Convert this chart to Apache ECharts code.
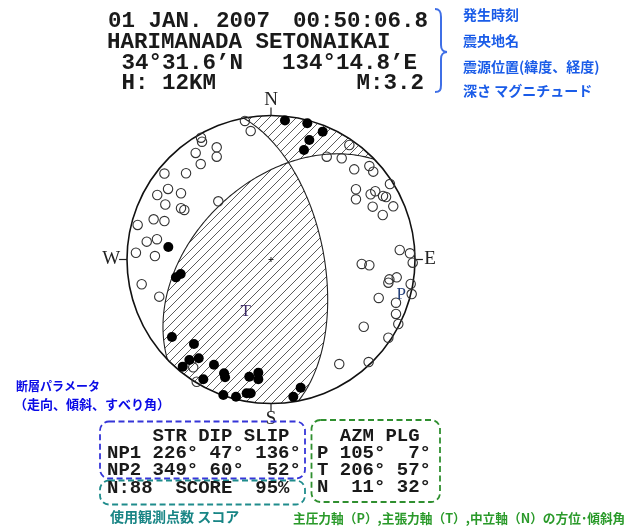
<!DOCTYPE html>
<html>
<head>
<meta charset="utf-8">
<script src="https://cdn.jsdelivr.net/npm/echarts@6/dist/echarts.min.js"></script>
<style>
  html, body { margin: 0; padding: 0; background: #fff; }
  #chart { width: 637px; height: 532px; }
</style>
</head>
<body>
<div id="chart"></div>
<script>
// ---- event header ----
const originDate = '01 JAN. 2007';
const originTime = '00:50:06.8';
const regionName = 'HARIMANADA SETONAIKAI';
const latText = '34°31.6’N';
const lonText = '134°14.8’E';
const depthText = 'H: 12KM';
const magText = 'M:3.2';
const headerNotes = ['発生時刻', '震央地名', '震源位置(緯度、経度)', '深さ マグニチュード'];

// ---- nodal planes ----
const planeNames = ['NP1', 'NP2'];
const strikes = [226, 349];
const dips = [47, 60];
const slips = [136, 52];

// ---- principal axes ----
const axisNames = ['P', 'T', 'N'];
const axisAzm = [105, 206, 11];
const axisPlg = [7, 57, 32];

const stationCount = 88;
const scoreValue = 95;
const compassLabels = ['N', 'E', 'S', 'W'];

// ---- first motions (lower hemisphere, equal-area, unit radius; x = east, y = north) ----
// push (compression)
const pushX = [0.097, 0.252, 0.359, 0.266, 0.229, -0.713, -0.660, -0.627, -0.688, -0.535,
  -0.567, -0.502, -0.613, -0.396, -0.326, -0.319, -0.470, -0.151, -0.088, -0.088,
  -0.331, -0.243, -0.169, -0.141, 0.206, 0.155];
const pushY = [0.965, 0.946, 0.888, 0.830, 0.760, 0.087, -0.124, -0.101, -0.538, -0.587,
  -0.698, -0.686, -0.744, -0.731, -0.790, -0.818, -0.832, -0.814, -0.786, -0.832,
  -0.941, -0.953, -0.929, -0.929, -0.890, -0.953];
// pull (dilatation)
const pullX = [-0.181, -0.141, -0.486, -0.479, -0.377, -0.377, -0.523, -0.488, -0.740, -0.590,
  -0.715, -0.625, -0.790, -0.734, -0.625, -0.602, -0.366, -0.815, -0.740, -0.792,
  -0.926, -0.863, -0.938, -0.806, -0.898, -0.776, -0.540, -0.516,
  0.544, 0.387, 0.491, 0.578, 0.683, 0.710, 0.826, 0.590, 0.590, 0.692,
  0.724, 0.778, 0.799, 0.706, 0.849, 0.776, 0.894, 0.965, 0.984, 0.630,
  0.683, 0.873, 0.822, 0.815, 0.970, 0.977, 0.748, 0.868, 0.868, 0.884,
  0.644, 0.815, 0.678, 0.474];
const pullY = [0.962, 0.892, 0.846, 0.818, 0.779, 0.714, 0.740, 0.663, 0.597, 0.599,
  0.490, 0.460, 0.448, 0.382, 0.356, 0.344, 0.404, 0.279, 0.267, 0.141,
  0.240, 0.124, 0.047, 0.024, -0.172, -0.258, -0.749, -0.849,
  0.795, 0.714, 0.703, 0.626, 0.649, 0.610, 0.524, 0.488, 0.418, 0.453,
  0.474, 0.441, 0.434, 0.367, 0.369, 0.309, 0.066, 0.043, -0.022, -0.031,
  -0.040, -0.124, -0.138, -0.161, -0.170, -0.240, -0.267, -0.300, -0.378, -0.448,
  -0.467, -0.543, -0.712, -0.726];

// ---- sphere geometry ----
const D2R = Math.PI / 180;
function unitVec(trend, plunge) { // [north, east, down]
  const cp = Math.cos(plunge * D2R);
  return [cp * Math.cos(trend * D2R), cp * Math.sin(trend * D2R), Math.sin(plunge * D2R)];
}
const dot = (a, b) => a[0] * b[0] + a[1] * b[1] + a[2] * b[2];
const cross = (a, b) => [a[1] * b[2] - a[2] * b[1], a[2] * b[0] - a[0] * b[2], a[0] * b[1] - a[1] * b[0]];
function project(v) { // lower hemisphere Schmidt net -> [east, north]
  let [n, e, d] = v;
  if (d < 0) { n = -n; e = -e; d = -d; }
  const k = 1 / Math.sqrt(1 + d);
  return [e * k, n * k];
}
function planeBasis(i) {
  return { s: unitVec(strikes[i], 0), d: unitVec(strikes[i] + 90, dips[i]), pole: unitVec(strikes[i] - 90, 90 - dips[i]) };
}
const planes = [planeBasis(0), planeBasis(1)];
function planePoint(i, t) {
  const b = planes[i], c = Math.cos(t * D2R), s = Math.sin(t * D2R);
  return project([c * b.s[0] + s * b.d[0], c * b.s[1] + s * b.d[1], c * b.s[2] + s * b.d[2]]);
}
function planeArc(i, t0, t1, n = 80) {
  const out = [];
  for (let k = 0; k <= n; k++) out.push(planePoint(i, t0 + (t1 - t0) * k / n));
  return out;
}
function rimArc(a0, a1, n = 60) {
  const out = [];
  for (let k = 0; k <= n; k++) {
    const a = (a0 + (a1 - a0) * k / n) * D2R;
    out.push([Math.sin(a), Math.cos(a)]);
  }
  return out;
}

// null axis = intersection of the two planes
let nullVec = cross(planes[0].pole, planes[1].pole);
const nl = Math.sqrt(dot(nullVec, nullVec));
nullVec = nullVec.map(v => v / nl);
if (nullVec[2] < 0) nullVec = nullVec.map(v => -v);
const tNull = planes.map(b => Math.atan2(dot(nullVec, b.d), dot(nullVec, b.s)) / D2R);

// quadrants: bounded by two half-arcs from the null axis and a rim arc
const polarity = v => Math.sign(dot(planes[0].pole, v) * dot(planes[1].pole, v));
const tPolarity = polarity(unitVec(axisAzm[1], axisPlg[1]));
const ends = [];
planes.forEach((b, i) => {
  ends.push({ plane: i, t: 0, az: ((strikes[i] % 360) + 360) % 360 });
  ends.push({ plane: i, t: 180, az: ((strikes[i] + 180) % 360 + 360) % 360 });
});
ends.sort((a, b) => a.az - b.az);
const hatchPolys = [];
for (let k = 0; k < 4; k++) {
  const a = ends[k], b = ends[(k + 1) % 4];
  let azB = b.az; if (azB <= a.az) azB += 360;
  const mid = unitVec((a.az + azB) / 2, 0);
  if (polarity(mid) !== tPolarity) continue;
  const poly = planeArc(a.plane, tNull[a.plane], a.t)
    .concat(rimArc(a.az, azB))
    .concat(planeArc(b.plane, b.t, tNull[b.plane]));
  hatchPolys.push(poly);
}

// diagonal hatch tile
function hatchTile(step, color) {
  const c = document.createElement('canvas');
  c.width = step; c.height = step;
  const g = c.getContext('2d');
  g.strokeStyle = color; g.lineWidth = 1;
  g.beginPath();
  g.moveTo(-1, step + 1); g.lineTo(step + 1, -1);
  g.moveTo(-1, 1); g.lineTo(1, -1);
  g.moveTo(step - 1, step + 1); g.lineTo(step + 1, step - 1);
  g.stroke();
  return c;
}
const hatch = { image: hatchTile(9, '#5c5c5c'), repeat: 'repeat' };

// ---- text helpers ----
const MONO = '"Liberation Mono", "Courier New", monospace';
const SERIF = '"Liberation Serif", "Times New Roman", serif';
const JP = '"Noto Sans CJK JP", sans-serif';
const pad = (v, n) => String(v).padStart(n, ' ');
function txt(x, y, text, font, fill, align) {
  align = align || 'left';
  return { type: 'text', x, y, silent: true, z: 10,
    style: { text, font, fill, textAlign: align, align, textVerticalAlign: 'middle', verticalAlign: 'middle' } };
}
function box(x, y, w, h, color) {
  return { type: 'rect', silent: true, z: 9, shape: { x, y, width: w, height: h, r: 9 },
    style: { fill: 'none', stroke: color, lineWidth: 1.8, lineDash: [6, 3.5] } };
}

const planeRows = ['    STR DIP SLIP'].concat(planeNames.map((nm, i) =>
  nm + ' ' + pad(strikes[i], 3) + '°' + pad(dips[i], 3) + '°' + pad(slips[i], 4) + '°'));
const scoreRow = 'N:' + stationCount + '  SCORE  ' + scoreValue + '%';
const axisRows = ['  AZM PLG'].concat(axisNames.map((nm, i) =>
  nm + ' ' + pad(axisAzm[i], 3) + '°' + pad(axisPlg[i], 3) + '°'));

const headFont = 'bold 22.5px ' + MONO;
const tabFont = 'bold 19px ' + MONO;
const noteBlue = '#1a5ce8';
const braceStyle = { stroke: '#3f6fe6', lineWidth: 2, fill: 'none' };
const graphics = [
  txt(108, 21.5, originDate, headFont, '#1a1a1a'),
  txt(428, 21.5, originTime, headFont, '#1a1a1a', 'right'),
  txt(107, 42, regionName, headFont, '#1a1a1a'),
  txt(108, 63.3, ' ' + latText, headFont, '#1a1a1a'),
  txt(417, 63.3, lonText, headFont, '#1a1a1a', 'right'),
  txt(108, 83.5, ' ' + depthText, headFont, '#1a1a1a'),
  txt(424, 83.5, magText, headFont, '#1a1a1a', 'right'),
  // brace
  { type: 'bezierCurve', silent: true, shape: { x1: 435, y1: 9, cpx1: 440, cpy1: 9, cpx2: 441, cpy2: 12, x2: 441, y2: 17 }, style: braceStyle },
  { type: 'line', silent: true, shape: { x1: 441, y1: 17, x2: 441, y2: 45 }, style: braceStyle },
  { type: 'bezierCurve', silent: true, shape: { x1: 441, y1: 45, cpx1: 441, cpy1: 50, cpx2: 443, cpy2: 51.5, x2: 447, y2: 52 }, style: braceStyle },
  { type: 'bezierCurve', silent: true, shape: { x1: 447, y1: 52, cpx1: 443, cpy1: 52.5, cpx2: 441, cpy2: 54, x2: 441, y2: 59 }, style: braceStyle },
  { type: 'line', silent: true, shape: { x1: 441, y1: 59, x2: 441, y2: 85 }, style: braceStyle },
  { type: 'bezierCurve', silent: true, shape: { x1: 441, y1: 85, cpx1: 441, cpy1: 90, cpx2: 440, cpy2: 92, x2: 435, y2: 92 }, style: braceStyle },
  txt(463, 15, headerNotes[0], 'bold 14px ' + JP, noteBlue),
  txt(463, 40.5, headerNotes[1], 'bold 14px ' + JP, noteBlue),
  txt(463, 66.5, headerNotes[2], 'bold 14px ' + JP, noteBlue),
  txt(463, 90.5, headerNotes[3], 'bold 14px ' + JP, noteBlue),
  // fault parameter notes
  txt(16, 386, '断層パラメータ', 'bold 12px ' + JP, '#0a0ae6'),
  txt(14, 404, '（走向、傾斜、すべり角）', 'bold 13px ' + JP, '#0a0ae6'),
  // tables
  box(100, 421.5, 205, 57, '#3535d8'),
  box(100, 480.5, 205, 24, '#1f8c8c'),
  box(311.5, 420, 128.5, 82, '#2f8f2f'),
  txt(107, 436.5, planeRows[0], tabFont, '#1a1a1a'),
  txt(107, 453, planeRows[1], tabFont, '#1a1a1a'),
  txt(107, 470, planeRows[2], tabFont, '#1a1a1a'),
  txt(107, 488, scoreRow, tabFont, '#1a1a1a'),
  txt(317, 436.5, axisRows[0], tabFont, '#1a1a1a'),
  txt(317, 453, axisRows[1], tabFont, '#1a1a1a'),
  txt(317, 470, axisRows[2], tabFont, '#1a1a1a'),
  txt(317, 487.5, axisRows[3], tabFont, '#1a1a1a'),
  txt(110, 517, '使用観測点数 スコア', 'bold 14px ' + JP, '#188585'),
  txt(293, 518, '主圧力軸（P）,主張力軸（T）,中立軸（N）の方位･傾斜角', 'bold 12.7px ' + JP, '#2a9a2a')
];

// ---- chart ----
const chart = echarts.init(document.getElementById('chart'), null, { renderer: 'canvas' });
const axisLabelPts = [0, 1].map(i => project(unitVec(axisAzm[i], axisPlg[i])));
const compassPts = [[0, 1.11], [1.105, 0], [0, -1.105], [-1.11, 0]];

chart.setOption({
  animation: false,
  backgroundColor: '#ffffff',
  grid: { left: 127, top: 115.5, width: 288, height: 288 },
  xAxis: { type: 'value', min: -1, max: 1, show: false },
  yAxis: { type: 'value', min: -1, max: 1, show: false },
  graphic: { elements: graphics },
  series: [
    { // compressional quadrants
      type: 'custom', coordinateSystem: 'cartesian2d', clip: false, z: 1, silent: true,
      data: hatchPolys.map((_, i) => [0, 0, i]),
      renderItem: (params, api) => ({
        type: 'polygon',
        shape: { points: hatchPolys[params.dataIndex].map(p => api.coord(p)) },
        style: { fill: hatch, stroke: null }
      })
    },
    { // nodal planes
      type: 'custom', coordinateSystem: 'cartesian2d', clip: false, z: 2, silent: true,
      data: planes.map((_, i) => [0, 0, i]),
      renderItem: (params, api) => ({
        type: 'polyline',
        shape: { points: planeArc(params.dataIndex, 0, 180, 160).map(p => api.coord(p)) },
        style: { fill: 'none', stroke: '#222', lineWidth: 1.1 }
      })
    },
    { // focal sphere rim, ticks, centre mark, compass labels
      type: 'custom', coordinateSystem: 'cartesian2d', clip: false, z: 3, silent: true,
      data: [[0, 0]],
      renderItem: (params, api) => {
        const c = api.coord([0, 0]);
        const r = api.size([1, 1])[0];
        const children = [
          { type: 'circle', shape: { cx: c[0], cy: c[1], r }, style: { fill: 'none', stroke: '#111', lineWidth: 1.6 } },
          { type: 'line', shape: { x1: c[0] - 2.5, y1: c[1], x2: c[0] + 2.5, y2: c[1] }, style: { stroke: '#222', lineWidth: 1 } },
          { type: 'line', shape: { x1: c[0], y1: c[1] - 2.5, x2: c[0], y2: c[1] + 2.5 }, style: { stroke: '#222', lineWidth: 1 } }
        ];
        const dirs = [[0, 1], [1, 0], [0, -1], [-1, 0]];
        dirs.forEach((d, i) => {
          const p0 = api.coord(d), p1 = api.coord([d[0] * 1.055, d[1] * 1.055]);
          children.push({ type: 'line', shape: { x1: p0[0], y1: p0[1], x2: p1[0], y2: p1[1] }, style: { stroke: '#222', lineWidth: 1.2 } });
          const q = api.coord(compassPts[i]);
          children.push({ type: 'text', x: q[0], y: q[1], style: { text: compassLabels[i], font: '19px ' + SERIF, fill: '#222', align: 'center', verticalAlign: 'middle', textAlign: 'center', textVerticalAlign: 'middle' } });
        });
        return { type: 'group', children };
      }
    },
    { // P and T axis labels
      type: 'custom', coordinateSystem: 'cartesian2d', clip: false, z: 6, silent: true,
      data: axisLabelPts.map((p, i) => [p[0], p[1], i]),
      renderItem: (params, api) => {
        const q = api.coord([api.value(0), api.value(1)]);
        const i = params.dataIndex;
        return { type: 'text', x: q[0], y: q[1], style: { text: axisNames[i], font: '17px ' + SERIF, fill: i === 0 ? '#24407a' : '#3c2a66', align: 'center', verticalAlign: 'middle', textAlign: 'center', textVerticalAlign: 'middle' } };
      }
    },
    { // dilatation
      type: 'scatter', z: 4, silent: true, symbol: 'circle', symbolSize: 9.4,
      itemStyle: { color: 'rgba(0,0,0,0)', borderColor: '#333', borderWidth: 1.1, opacity: 1 },
      data: pullX.map((x, i) => [x, pullY[i]])
    },
    { // compression
      type: 'scatter', z: 5, silent: true, symbol: 'circle', symbolSize: 10,
      itemStyle: { color: '#000', borderWidth: 0, opacity: 1 },
      data: pushX.map((x, i) => [x, pushY[i]])
    }
  ]
});
</script>
</body>
</html>
